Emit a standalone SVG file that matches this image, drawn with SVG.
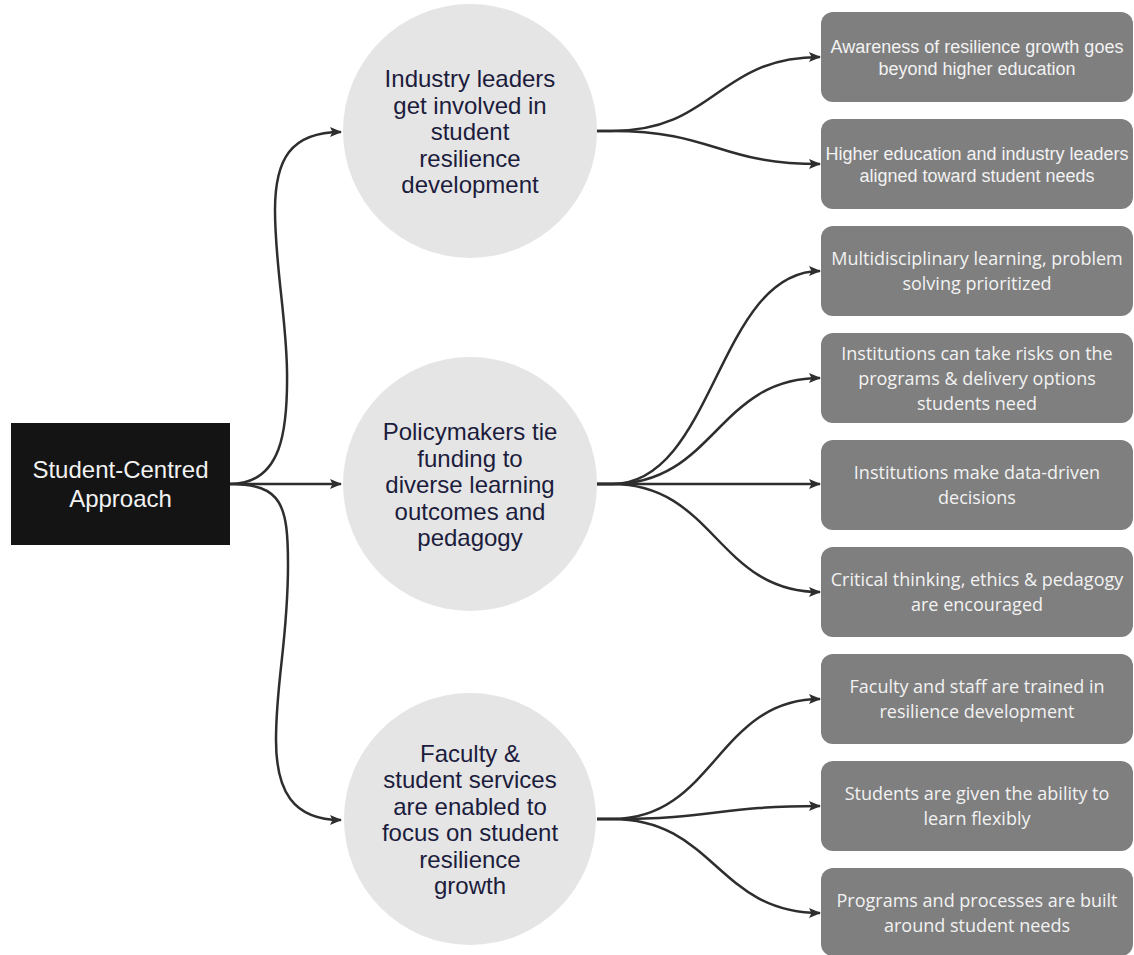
<svg xmlns="http://www.w3.org/2000/svg" width="1134" height="955" viewBox="0 0 1134 955">
  <style>
    .root-box { fill: #141414; }
    .root-text { font-family: "Liberation Sans", Arial, sans-serif; font-size: 24px; fill: #f2f2f2; text-anchor: middle; }
    .hub { fill: #e5e5e5; }
    .hub-text { font-family: "Liberation Sans", Arial, sans-serif; font-size: 24px; fill: #1c1c3c; text-anchor: middle; }
    .leaf { fill: #7f7f7f; }
    .leaf-text-a { font-family: "Liberation Sans", Arial, sans-serif; font-size: 18px; fill: #f2f2f2; text-anchor: middle; }
    .leaf-text-o { font-family: "Open Sans", "Liberation Sans", sans-serif; font-size: 18px; fill: #f2f2f2; text-anchor: middle; }
    .link { fill: none; stroke: #2e2e2e; stroke-width: 2.5; marker-end: url(#arrow); }
  </style>
  <defs>
    <marker id="arrow" markerUnits="userSpaceOnUse" markerWidth="12" markerHeight="10" refX="11" refY="5" orient="auto">
      <path d="M0,0 L12,5 L0,10 L2.5,5 z" fill="#2e2e2e"/>
    </marker>
  </defs>

  <rect width="1134" height="955" fill="#ffffff"/>

  <!-- connectors -->
  <g id="connectors">
    <!-- root to hubs -->
    <path class="link" d="M230,484 C282,484 288,430 287,370 C286,315 275,265 275,210 C275,160 290,132 341,132"/>
    <path class="link" d="M230,484 L341,484"/>
    <path class="link" d="M230,484 C282,484 288,505 288,565 C288,640 276,680 276,740 C276,790 292,820 341,820"/>
    <!-- hub 1 to leaves -->
    <path class="link" d="M597,131 L612,131 C715,131 717,57 820,57"/>
    <path class="link" d="M597,131 L612,131 C715,131 717,164 820,164"/>
    <!-- hub 2 to leaves -->
    <path class="link" d="M597,484 L612,484 C715,484 717,271 820,271"/>
    <path class="link" d="M597,484 L612,484 C715,484 717,378 820,378"/>
    <path class="link" d="M597,484 L820,484"/>
    <path class="link" d="M597,484 L612,484 C715,484 717,592 820,592"/>
    <!-- hub 3 to leaves -->
    <path class="link" d="M597,819 L612,819 C715,819 717,699 820,699"/>
    <path class="link" d="M597,819 L612,819 C715,819 717,806 820,806"/>
    <path class="link" d="M597,819 L612,819 C715,819 717,913 820,913"/>
  </g>

  <!-- root -->
  <g id="root">
    <rect class="root-box" x="11" y="423" width="219" height="122"/>
    <text class="root-text" x="120.5" y="478">Student-Centred</text>
    <text class="root-text" x="120.5" y="507">Approach</text>
  </g>

  <!-- hubs -->
  <g id="hub-industry">
    <circle class="hub" cx="470" cy="131" r="127"/>
    <text class="hub-text" x="470" y="87">Industry leaders</text>
    <text class="hub-text" x="470" y="113.5">get involved in</text>
    <text class="hub-text" x="470" y="140">student</text>
    <text class="hub-text" x="470" y="166.5">resilience</text>
    <text class="hub-text" x="470" y="193">development</text>
  </g>
  <g id="hub-policy">
    <circle class="hub" cx="470" cy="484" r="127"/>
    <text class="hub-text" x="470" y="440">Policymakers tie</text>
    <text class="hub-text" x="470" y="466.5">funding to</text>
    <text class="hub-text" x="470" y="493">diverse learning</text>
    <text class="hub-text" x="470" y="519.5">outcomes and</text>
    <text class="hub-text" x="470" y="546">pedagogy</text>
  </g>
  <g id="hub-faculty">
    <circle class="hub" cx="470" cy="819" r="126"/>
    <text class="hub-text" x="470" y="761.75">Faculty &amp;</text>
    <text class="hub-text" x="470" y="788.25">student services</text>
    <text class="hub-text" x="470" y="814.75">are enabled to</text>
    <text class="hub-text" x="470" y="841.25">focus on student</text>
    <text class="hub-text" x="470" y="867.75">resilience</text>
    <text class="hub-text" x="470" y="894.25">growth</text>
  </g>

  <!-- leaves -->
  <g id="leaf-awareness">
    <rect class="leaf" x="821" y="12" width="312" height="90" rx="12"/>
    <text class="leaf-text-a" x="977" y="53">Awareness of resilience growth goes</text>
    <text class="leaf-text-a" x="977" y="75">beyond higher education</text>
  </g>
  <g id="leaf-aligned">
    <rect class="leaf" x="821" y="119" width="312" height="90" rx="12"/>
    <text class="leaf-text-a" x="977" y="160">Higher education and industry leaders</text>
    <text class="leaf-text-a" x="977" y="182">aligned toward student needs</text>
  </g>
  <g id="leaf-multidisciplinary">
    <rect class="leaf" x="821" y="226" width="312" height="90" rx="12"/>
    <text class="leaf-text-o" x="977" y="265">Multidisciplinary learning, problem</text>
    <text class="leaf-text-o" x="977" y="290">solving prioritized</text>
  </g>
  <g id="leaf-risks">
    <rect class="leaf" x="821" y="333" width="312" height="90" rx="12"/>
    <text class="leaf-text-o" x="977" y="359.5">Institutions can take risks on the</text>
    <text class="leaf-text-o" x="977" y="384.5">programs &amp; delivery options</text>
    <text class="leaf-text-o" x="977" y="409.5">students need</text>
  </g>
  <g id="leaf-data">
    <rect class="leaf" x="821" y="440" width="312" height="90" rx="12"/>
    <text class="leaf-text-o" x="977" y="479">Institutions make data-driven</text>
    <text class="leaf-text-o" x="977" y="504">decisions</text>
  </g>
  <g id="leaf-critical">
    <rect class="leaf" x="821" y="547" width="312" height="90" rx="12"/>
    <text class="leaf-text-o" x="977" y="586">Critical thinking, ethics &amp; pedagogy</text>
    <text class="leaf-text-o" x="977" y="611">are encouraged</text>
  </g>
  <g id="leaf-trained">
    <rect class="leaf" x="821" y="654" width="312" height="90" rx="12"/>
    <text class="leaf-text-o" x="977" y="693">Faculty and staff are trained in</text>
    <text class="leaf-text-o" x="977" y="718">resilience development</text>
  </g>
  <g id="leaf-flexible">
    <rect class="leaf" x="821" y="761" width="312" height="90" rx="12"/>
    <text class="leaf-text-o" x="977" y="800">Students are given the ability to</text>
    <text class="leaf-text-o" x="977" y="825">learn flexibly</text>
  </g>
  <g id="leaf-programs">
    <rect class="leaf" x="821" y="868" width="312" height="88" rx="12"/>
    <text class="leaf-text-o" x="977" y="907">Programs and processes are built</text>
    <text class="leaf-text-o" x="977" y="932">around student needs</text>
  </g>
</svg>
